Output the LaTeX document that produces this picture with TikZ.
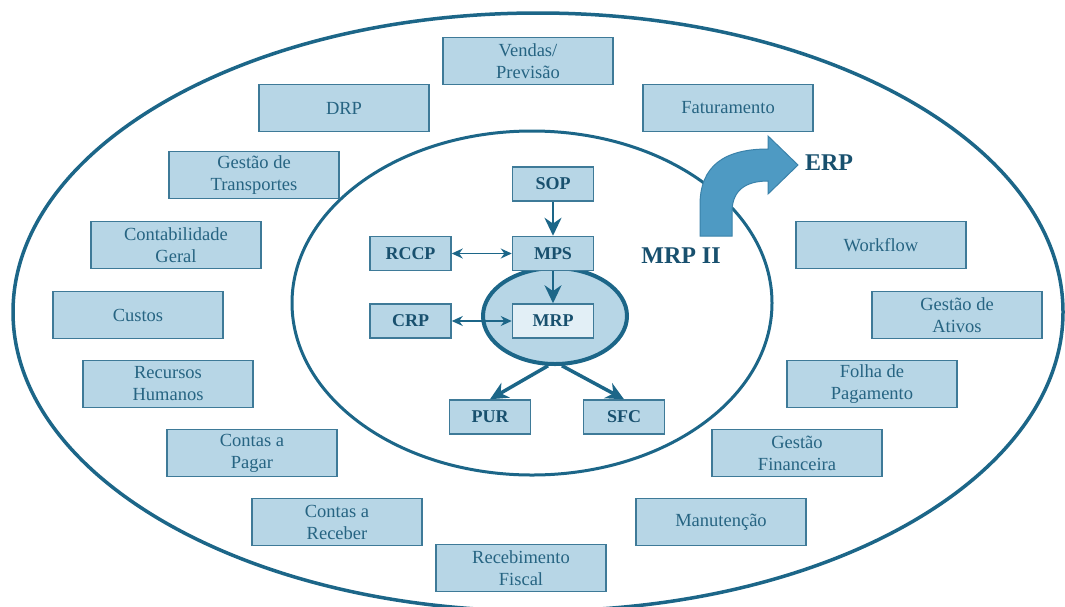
\documentclass[tikz,border=0pt]{standalone}
\usepackage{fontspec}
\setmainfont{Liberation Serif}
\usepackage{tikz}
\usetikzlibrary{arrows.meta,positioning,shapes.geometric}

\definecolor{boxfill}{RGB}{183,214,230}
\definecolor{boxline}{RGB}{62,122,152}
\definecolor{ringline}{RGB}{28,102,136}
\definecolor{txtlight}{RGB}{38,100,130}
\definecolor{txtdark}{RGB}{24,80,110}
\definecolor{mrpfill}{RGB}{226,239,246}
\definecolor{arrowfill}{RGB}{78,154,195}
\definecolor{arrowline}{RGB}{58,130,170}

\begin{document}
\begin{tikzpicture}[x=1pt,y=-1pt,>={Stealth[length=18pt,width=17pt]},
  erp node/.style={rectangle,fill=boxfill,draw=boxline,line width=1.5pt,
    minimum width=170pt,minimum height=47pt,inner sep=0pt,align=center,
    text=txtlight,font=\fontsize{18.5}{22}\selectfont},
  core node/.style={rectangle,fill=boxfill,draw=boxline,line width=1.5pt,
    minimum width=81pt,minimum height=34pt,inner sep=0pt,
    text=txtdark,font=\fontsize{18}{22}\selectfont\bfseries},
  big label/.style={text=txtdark,font=\fontsize{24}{28}\selectfont\bfseries},
  ring/.style={draw=ringline,line width=3.5pt},
  small tips/.style={>={Stealth[length=11pt,width=10pt]}}]
  \useasboundingbox (0,0) rectangle (1065,606);
  \fill[white] (0,0) rectangle (1065,606);

  % rings
  \draw[ring] (538,312) ellipse [x radius=525, y radius=299];
  \draw[ring,line width=3pt] (532,303) ellipse [x radius=240, y radius=172];
  \node[ellipse,ring,line width=4pt,fill=boxfill,minimum width=144pt,
    minimum height=96pt] (mrpring) at (555,316) {};

  % ERP modules
  \node[erp node] (vendas) at (528,61) {Vendas/\\Previsão};
  \node[erp node] (drp) at (344,108) {DRP};
  \node[erp node] (fat) at (728,108) {Faturamento};
  \node[erp node] (transp) at (254,175) {Gestão de\\Transportes};
  \node[erp node] (contab) at (176,245) {Contabilidade\\Geral};
  \node[erp node] (custos) at (138,315) {Custos};
  \node[erp node] (rh) at (168,384) {Recursos\\Humanos};
  \node[erp node] (pagar) at (252,453) {Contas a\\Pagar};
  \node[erp node] (receber) at (337,522) {Contas a\\Receber};
  \node[erp node] (fiscal) at (521,568) {Recebimento\\Fiscal};
  \node[erp node] (manut) at (721,522) {Manutenção};
  \node[erp node] (financ) at (797,453) {Gestão\\Financeira};
  \node[erp node] (folha) at (872,384) {Folha de\\Pagamento};
  \node[erp node] (ativos) at (957,315) {Gestão de\\Ativos};
  \node[erp node] (workflow) at (881,245) {Workflow};

  % MRP II core
  \node[core node] (sop) at (553,184) {SOP};
  \node[core node] (mps) [below=34pt of sop] {MPS};
  \node[core node,fill=mrpfill] (mrp) [below=32pt of mps] {MRP};
  \node[core node] (rccp) [left=60pt of mps] {RCCP};
  \node[core node] (crp) [left=60pt of mrp] {CRP};
  \node[core node] (pur) at (490,417) {PUR};
  \node[core node] (sfc) at (624,417) {SFC};

  \draw[->,draw=ringline,line width=2.5pt] (sop) -- (mps);
  \draw[->,draw=ringline,line width=2.5pt] (mps) -- (mrp);
  \draw[<->,small tips,draw=ringline,line width=1.3pt] (rccp) -- (mps);
  \draw[<->,small tips,draw=ringline,line width=1.3pt] (crp) -- (mrp);
  \draw[->,draw=ringline,line width=3.5pt] (mrpring.262) -- (pur.north);
  \draw[->,draw=ringline,line width=3.5pt] (mrpring.278) -- (sfc.north);

  % MRP II -> ERP
  \filldraw[fill=arrowfill,draw=arrowline,line width=1pt]
    (700,236) -- (700,205) .. controls (700,166) and (724,149) .. (768,149)
    -- (768,136) -- (798,165) -- (768,194) -- (768,181)
    .. controls (746,181) and (732,190) .. (732,212) -- (732,236) -- cycle;
  \node[big label] (mrpii) at (681,256) {MRP II};
  \node[big label] (erp) at (829,163) {ERP};
\end{tikzpicture}
\end{document}
